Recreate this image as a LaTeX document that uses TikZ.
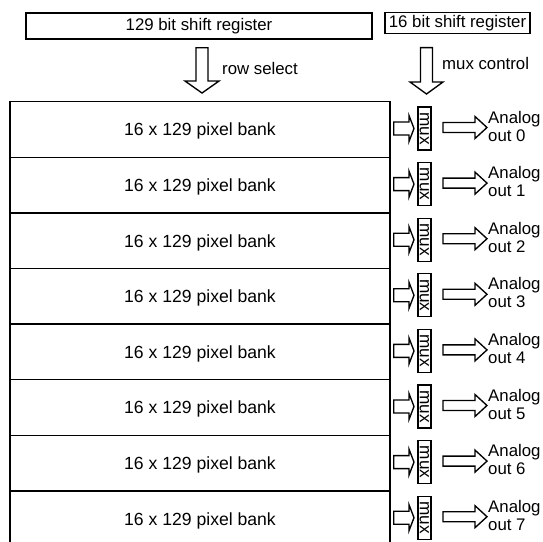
\documentclass[tikz,border=0pt]{standalone}
\usepackage{fontspec}
\setmainfont{Liberation Sans}
\usetikzlibrary{calc,positioning}

\tikzset{
  box/.style={draw,line width=1.35pt,inner sep=0pt,font=\fontsize{16.8}{18}\selectfont},
  lbl/.style={inner sep=0pt,font=\fontsize{16.8}{18}\selectfont},
  fat/.style={draw,line width=1.35pt,line join=miter,fill=white},
}
% hollow arrows: start, tip, shaft half width, head half width, head length
\newcommand{\vfat}[5]{\draw[fat] let \p1=(#1), \p2=(#2) in
  (\x1-#3pt,\y1) -- (\x1-#3pt,\y2+#5pt) -- (\x1-#4pt,\y2+#5pt) -- (\x1,\y2)
  -- (\x1+#4pt,\y2+#5pt) -- (\x1+#3pt,\y2+#5pt) -- (\x1+#3pt,\y1) -- cycle;}
\newcommand{\hfat}[5]{\draw[fat] let \p1=(#1), \p2=(#2) in
  (\x1,\y1+#3pt) -- (\x2-#5pt,\y1+#3pt) -- (\x2-#5pt,\y1+#4pt) -- (\x2,\y1)
  -- (\x2-#5pt,\y1-#4pt) -- (\x2-#5pt,\y1-#3pt) -- (\x1,\y1-#3pt) -- cycle;}

\begin{document}
\begin{tikzpicture}[x=1pt,y=-1pt]
\useasboundingbox (0,0) rectangle (543,541);
\clip (0,0) rectangle (543,541);
% shift registers
\node[box,minimum width=346pt,minimum height=26pt] (regrow) at (199,26) {129 bit shift register};
\node[box,minimum width=145pt,minimum height=20.5pt] (regmux) at (457.5,23) {16 bit shift register};
% pixel banks with their muxes
\foreach \i in {0,...,7} {
  \node[box,minimum width=380pt,minimum height=55.6pt,text depth=0pt,font=\fontsize{17.6}{18}\selectfont] (bank\i) at (200,129.5+55.6*\i) {16 x 129 pixel bank};
  \node[box,rotate=-90,minimum width=43pt,minimum height=13pt,font=\fontsize{17.2}{18}\selectfont] (mux\i) at (424.5,128.5+55.6*\i) {mux};
  \coordinate (inA\i) at ($(bank\i.east)+(3,-1)$);
  \coordinate (inB\i) at ($(mux\i.center)+(-10.5,0)$);
  \coordinate (outA\i) at ($(mux\i.center)+(18.5,-1)$);
  \coordinate (outB\i) at ($(mux\i.center)+(62.5,0)$);
  \hfat{inA\i}{inB\i}{6.5}{13}{5}
  \hfat{outA\i}{outB\i}{5}{11}{12}
  \node[lbl,anchor=west,align=left] (out\i) at ($(mux\i.center)+(63.5,-2.5)$) {Analog\\out \i};
}
% select and control arrows
\coordinate (rsA) at ($(regrow.south)+(3,8)$);
\coordinate (rsB) at ($(bank0.north)+(2,-8)$);
\coordinate (mcA) at ($(regmux.south)+(-31,13.7)$);
\coordinate (mcB) at ($(mux0.center)+(2,-34.5)$);
\vfat{rsA}{rsB}{6}{17}{12}
\vfat{mcA}{mcB}{6}{16.5}{12}
\node[lbl,anchor=west] (rowsel) at (222,68) {row select};
\node[lbl,anchor=west] (muxctl) at (442,63) {mux control};
\end{tikzpicture}
\end{document}
